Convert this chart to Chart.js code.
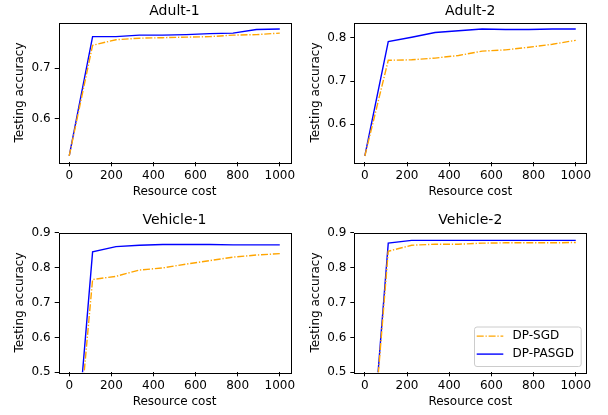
<!DOCTYPE html>
<html lang="en">
<head>
<meta charset="UTF-8">
<title>Testing accuracy vs resource cost</title>
<script src="https://cdn.jsdelivr.net/npm/chart.js"></script>
<style>
  body { margin: 0; background: #fff; }
  #fig { position: relative; width: 608px; height: 415px; overflow: hidden; }
  #fig canvas { position: absolute; }
</style>
</head>
<body>
<div id="fig">
  <canvas id="adult1" width="300" height="207" style="left:0;top:0"></canvas>
  <canvas id="adult2" width="308" height="207" style="left:300px;top:0"></canvas>
  <canvas id="vehicle1" width="300" height="208" style="left:0;top:207px"></canvas>
  <canvas id="vehicle2" width="308" height="208" style="left:300px;top:207px"></canvas>
</div>
<script>
// data
const resourceCost = [0, 111, 222, 333, 444, 556, 667, 778, 889, 1000];
const xTicks = [0, 200, 400, 600, 800, 1000];

const adult1Sgd   = [0.527, 0.745, 0.756, 0.759, 0.760, 0.761, 0.762, 0.765, 0.766, 0.769];
const adult1Pasgd = [0.527, 0.762, 0.762, 0.765, 0.765, 0.766, 0.768, 0.769, 0.776, 0.777];

const adult2Sgd   = [0.527, 0.748, 0.749, 0.753, 0.759, 0.769, 0.772, 0.778, 0.785, 0.794];
const adult2Pasgd = [0.527, 0.791, 0.801, 0.812, 0.816, 0.820, 0.819, 0.819, 0.820, 0.820];

const vehicle1Sgd   = [0.030, 0.766, 0.775, 0.793, 0.799, 0.810, 0.820, 0.830, 0.836, 0.840];
const vehicle1Pasgd = [0.045, 0.845, 0.860, 0.864, 0.866, 0.866, 0.866, 0.865, 0.865, 0.865];

const vehicle2Sgd   = [0.020, 0.847, 0.864, 0.867, 0.867, 0.870, 0.871, 0.871, 0.871, 0.872];
const vehicle2Pasgd = [0.020, 0.870, 0.878, 0.878, 0.878, 0.878, 0.878, 0.878, 0.878, 0.878];

const seriesNames = ['DP-SGD', 'DP-PASGD'];

Chart.defaults.font.family = '"DejaVu Sans", sans-serif';
Chart.defaults.font.size = 12;
Chart.defaults.color = '#000';

const panelTitle = {
  id: 'panelTitle',
  afterDraw(chart, args, opts) {
    const { ctx, chartArea } = chart;
    ctx.save();
    ctx.font = '14px "DejaVu Sans"';
    ctx.fillStyle = '#000';
    ctx.textAlign = 'center';
    ctx.textBaseline = 'middle';
    ctx.fillText(opts.text, (chartArea.left + chartArea.right) / 2, opts.y);
    ctx.restore();
  }
};

const frameBox = {
  id: 'frameBox',
  afterDraw(chart) {
    const { ctx, chartArea: a } = chart;
    ctx.save();
    ctx.strokeStyle = '#000';
    ctx.lineWidth = 1;
    ctx.strokeRect(Math.round(a.left) + 0.5, Math.round(a.top) + 0.5,
      Math.round(a.right - a.left), Math.round(a.bottom - a.top));
    ctx.restore();
  }
};

const boxLegend = {
  id: 'boxLegend',
  afterDraw(chart, args, opts) {
    if (!opts.show) return;
    const { ctx, chartArea: a } = chart;
    const w = 106.7, h = 39.5;
    const x = a.right - 5.6 - w, y = a.bottom - 6.3 - h;
    ctx.save();
    ctx.beginPath();
    ctx.roundRect(x + 0.5, y + 0.5, w, h, 2.5);
    ctx.fillStyle = 'rgba(255,255,255,0.8)';
    ctx.fill();
    ctx.strokeStyle = '#cccccc';
    ctx.lineWidth = 1;
    ctx.stroke();
    chart.data.datasets.forEach((ds, i) => {
      const ry = y + 9.6 + i * 18;
      ctx.beginPath();
      ctx.setLineDash(ds.borderDash || []);
      ctx.strokeStyle = ds.borderColor;
      ctx.lineWidth = ds.borderWidth;
      ctx.moveTo(x + 2.7, ry);
      ctx.lineTo(x + 29.3, ry);
      ctx.stroke();
      ctx.setLineDash([]);
      ctx.font = '12px "DejaVu Sans"';
      ctx.fillStyle = '#000';
      ctx.textAlign = 'left';
      ctx.textBaseline = 'middle';
      ctx.fillText(ds.label, x + 38.5, ry);
    });
    ctx.restore();
  }
};

function points(ys) {
  return resourceCost.map((x, i) => ({ x: x, y: ys[i] }));
}

function makeChart(id, p) {
  new Chart(document.getElementById(id), {
    type: 'line',
    data: {
      datasets: [
        { label: seriesNames[0], data: points(p.sgd), borderColor: '#ffa500',
          borderWidth: 1.4, borderDash: [7, 1.8, 1.3, 1.8], pointRadius: 0, tension: 0 },
        { label: seriesNames[1], data: points(p.pasgd), borderColor: '#0000ff',
          borderWidth: 1.4, pointRadius: 0, tension: 0 }
      ]
    },
    options: {
      responsive: false,
      animation: false,
      layout: { padding: { top: p.padTop, right: p.padRight, left: 0, bottom: 0 } },
      plugins: {
        legend: { display: false },
        tooltip: { enabled: false },
        panelTitle: { text: p.title, y: p.titleY },
        boxLegend: { show: !!p.legend }
      },
      scales: {
        x: {
          type: 'linear', min: -50, max: 1050,
          afterBuildTicks: s => { s.ticks = xTicks.map(v => ({ value: v })); },
          afterFit: s => { s.height = p.xHeight; },
          grid: { drawOnChartArea: false, drawTicks: true, tickLength: 4, color: '#000', lineWidth: 1 },
          border: { display: false },
          ticks: { padding: 2.5, autoSkip: false, maxRotation: 0, callback: v => String(v) },
          title: { display: true, text: 'Resource cost', padding: { top: 0, bottom: p.xTitlePad } }
        },
        y: {
          type: 'linear', min: p.yMin, max: p.yMax,
          afterBuildTicks: s => { s.ticks = p.yTicks.map(v => ({ value: v })); },
          afterFit: s => { s.width = p.yWidth; },
          grid: { drawOnChartArea: false, drawTicks: true, tickLength: 4, color: '#000', lineWidth: 1 },
          border: { display: false },
          ticks: { padding: 4, autoSkip: false, callback: v => v.toFixed(1) },
          title: { display: true, text: 'Testing accuracy', padding: { top: p.yTitlePad, bottom: 0 } }
        }
      }
    },
    plugins: [panelTitle, frameBox, boxLegend]
  });
}

makeChart('adult1', {
  title: 'Adult-1', titleY: 11.7, sgd: adult1Sgd, pasgd: adult1Pasgd,
  yMin: 0.5145, yMax: 0.7895, yTicks: [0.6, 0.7],
  padTop: 22.7, padRight: 9.7, yWidth: 58.7, xHeight: 44.7, xTitlePad: 7.5, yTitlePad: 12.8
});
makeChart('adult2', {
  title: 'Adult-2', titleY: 11.7, sgd: adult2Sgd, pasgd: adult2Pasgd,
  yMin: 0.5124, yMax: 0.8347, yTicks: [0.6, 0.7, 0.8],
  padTop: 22.7, padRight: 21.7, yWidth: 54.3, xHeight: 44.7, xTitlePad: 7.5, yTitlePad: 8.8
});
makeChart('vehicle1', {
  title: 'Vehicle-1', titleY: 13.7, sgd: vehicle1Sgd, pasgd: vehicle1Pasgd,
  yMin: 0.5, yMax: 0.9, yTicks: [0.5, 0.6, 0.7, 0.8, 0.9],
  padTop: 25.7, padRight: 9.7, yWidth: 58.7, xHeight: 42.7, xTitlePad: 5.5, yTitlePad: 12.8
});
makeChart('vehicle2', {
  title: 'Vehicle-2', titleY: 13.7, sgd: vehicle2Sgd, pasgd: vehicle2Pasgd,
  yMin: 0.5, yMax: 0.9, yTicks: [0.5, 0.6, 0.7, 0.8, 0.9],
  padTop: 25.7, padRight: 21.7, yWidth: 54.3, xHeight: 42.7, xTitlePad: 5.5, yTitlePad: 8.8,
  legend: true
});
</script>
</body>
</html>
